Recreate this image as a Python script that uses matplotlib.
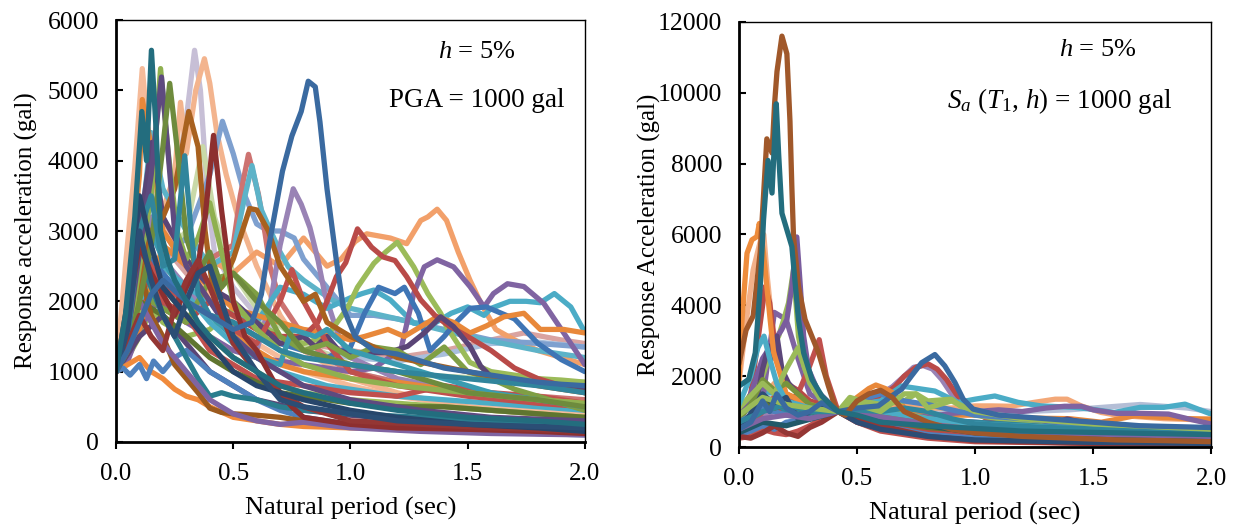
import matplotlib
matplotlib.use("Agg")
import matplotlib.pyplot as plt

plt.rcParams['font.family'] = ['Liberation Serif', 'DejaVu Serif']
plt.rcParams['mathtext.fontset'] = 'custom'
plt.rcParams['mathtext.rm'] = 'Liberation Serif'
plt.rcParams['mathtext.it'] = 'Liberation Serif:italic'

# ---- data: (period sec, response acc gal) ----
x_ticks = [0.0, 0.5, 1.0, 1.5, 2.0]
left_y_ticks = [0, 1000, 2000, 3000, 4000, 5000, 6000]
right_y_ticks = [0, 2000, 4000, 6000, 8000, 10000, 12000]

left_colors = [
    "#d9a3a1", "#a9bfdc", "#c7bfd6", "#f5bb9a", "#f3b48e", "#c9d9a8",
    "#f2a06a", "#7ea0cf", "#cd7371", "#5db3c8", "#9983b5", "#4bacc6",
    "#9bbb59", "#8064a2", "#3f75b5", "#e8883a", "#b94a48", "#5a4576",
    "#4bacc6", "#9bbb59", "#c0504d", "#e8883a", "#5a4576",
    "#c0504d", "#7f9f45", "#3a9bb0", "#5f7530", "#f08a3c", "#4f81bd",
    "#9c5a1e", "#2a7d8e", "#8064a2", "#a8611f", "#8fb050", "#5e4a7f",
    "#6e8b3d", "#31859c", "#8d2f2f", "#943634", "#27466b", "#2b4e75",
    "#3a6aa0", "#236d7e",
]

left_curves = [
    [(0, 1000), (0.05, 2500), (0.1, 3500), (0.15, 3000), (0.2, 2800), (0.3, 2400), (0.4, 2000), (0.5, 1800),
     (0.6, 1600), (0.8, 1400), (1.0, 1300), (1.2, 1200), (1.4, 1300), (1.6, 1450), (1.74, 1550), (1.9, 1450), (2.0, 1400)],
    [(0, 1000), (0.05, 1800), (0.1, 3000), (0.15, 2600), (0.2, 2400), (0.3, 2000), (0.4, 1800), (0.5, 1700),
     (0.6, 1500), (0.8, 1300), (1.0, 1200), (1.2, 1150), (1.4, 1250), (1.6, 1400), (1.8, 1420), (2.0, 1350)],
    [(0, 1000), (0.05, 1600), (0.1, 2800), (0.15, 3500), (0.2, 3200), (0.25, 3600), (0.3, 4600), (0.335, 5570),
     (0.36, 5000), (0.39, 3500), (0.42, 2700), (0.5, 2200), (0.6, 1800), (0.7, 1500), (0.8, 1300), (1.0, 1000),
     (1.2, 850), (1.5, 700), (1.8, 600), (2.0, 550)],
    [(0, 1000), (0.04, 2500), (0.08, 3900), (0.112, 5310), (0.14, 4300), (0.17, 3600), (0.2, 3200), (0.25, 2800),
     (0.3, 2500), (0.4, 2100), (0.5, 1700), (0.6, 1400), (0.8, 1000), (1.0, 800), (1.2, 650), (1.5, 500),
     (1.8, 450), (2.0, 400)],
    [(0, 1000), (0.05, 1500), (0.1, 2500), (0.15, 3000), (0.2, 3300), (0.25, 3800), (0.275, 4830), (0.3, 4100),
     (0.34, 5000), (0.377, 5450), (0.4, 5100), (0.43, 4400), (0.47, 3800), (0.52, 3200), (0.6, 2500), (0.7, 1800),
     (0.8, 1300), (0.9, 1100), (1.0, 900), (1.2, 700), (1.4, 550), (1.6, 450), (1.8, 400), (2.0, 350)],
    [(0, 1000), (0.05, 1400), (0.1, 2200), (0.2, 2600), (0.3, 3000), (0.37, 4200), (0.42, 3200), (0.5, 2400),
     (0.6, 1900), (0.8, 1400), (1.0, 1100), (1.3, 950), (1.6, 900), (2.0, 850)],
    [(0, 1000), (0.05, 1400), (0.1, 1900), (0.15, 2300), (0.2, 2500), (0.3, 2200), (0.4, 2600), (0.5, 2400),
     (0.6, 2700), (0.7, 2500), (0.8, 2900), (0.9, 2500), (0.96, 2600), (1.02, 2850), (1.07, 2960), (1.12, 2930),
     (1.17, 2900), (1.24, 2820), (1.3, 3150), (1.33, 3200), (1.37, 3310), (1.41, 3150), (1.46, 2700),
     (1.51, 2300), (1.56, 1950), (1.62, 1600), (1.7, 1450), (1.8, 1300), (1.9, 1200), (2.0, 1100)],
    [(0, 1000), (0.05, 1500), (0.1, 2500), (0.15, 3000), (0.2, 2600), (0.3, 2900), (0.4, 3800), (0.454, 4560),
     (0.5, 4100), (0.55, 3500), (0.6, 3100), (0.65, 3000), (0.7, 3000), (0.76, 2900), (0.8, 2600), (0.9, 2200),
     (1.0, 1800), (1.1, 1800), (1.2, 1750), (1.4, 1600), (1.6, 1450), (1.8, 1400), (2.0, 1350)],
    [(0, 1000), (0.05, 1800), (0.1, 3000), (0.15, 3400), (0.2, 3000), (0.3, 2500), (0.4, 2600), (0.5, 2800),
     (0.53, 3500), (0.565, 4090), (0.607, 3530), (0.636, 2960), (0.657, 2490), (0.7, 2000), (0.8, 1500),
     (0.9, 1200), (1.0, 1000), (1.2, 850), (1.5, 700), (1.8, 650), (2.0, 600)],
    [(0, 1000), (0.05, 1700), (0.1, 2800), (0.15, 4400), (0.2, 3600), (0.3, 3000), (0.4, 2500), (0.5, 2700),
     (0.55, 3500), (0.58, 3930), (0.62, 3300), (0.7, 2700), (0.735, 2490), (0.8, 2300), (0.92, 2020),
     (1.0, 1900), (1.2, 1750), (1.5, 1500), (1.8, 1300), (2.0, 1200)],
    [(0, 1000), (0.05, 1400), (0.1, 2400), (0.15, 3200), (0.2, 2600), (0.3, 2200), (0.4, 1800), (0.5, 1500),
     (0.6, 1300), (0.66, 2000), (0.7, 2800), (0.756, 3600), (0.79, 3380), (0.827, 3050), (0.862, 2580),
     (0.89, 2110), (0.95, 1500), (1.0, 1200), (1.2, 900), (1.5, 700), (1.8, 600), (2.0, 550)],
    [(0, 1000), (0.05, 1300), (0.1, 1700), (0.15, 2100), (0.2, 2500), (0.3, 2200), (0.4, 2000), (0.5, 1800),
     (0.6, 1700), (0.7, 2200), (0.8, 2100), (0.9, 1900), (1.0, 2050), (1.05, 2110), (1.1, 2160), (1.17, 2020),
     (1.27, 1690), (1.36, 1690), (1.43, 1830), (1.5, 1920), (1.57, 1800), (1.6, 1900), (1.68, 2000),
     (1.75, 2000), (1.81, 1980), (1.87, 2110), (1.94, 1920), (2.0, 1560)],
    [(0, 1000), (0.05, 1200), (0.1, 1500), (0.15, 1900), (0.2, 1700), (0.3, 1500), (0.4, 1600), (0.5, 1900),
     (0.6, 1700), (0.7, 1500), (0.8, 1400), (0.9, 1500), (0.99, 1920), (1.03, 2200), (1.1, 2540), (1.15, 2700),
     (1.2, 2840), (1.27, 2490), (1.33, 2110), (1.385, 1830), (1.41, 1640), (1.51, 1130), (1.6, 1000),
     (1.7, 950), (1.8, 900), (1.9, 880), (2.0, 850)],
    [(0, 1000), (0.05, 1150), (0.1, 1600), (0.15, 1900), (0.2, 2000), (0.3, 1700), (0.4, 1500), (0.5, 1300),
     (0.6, 1200), (0.7, 1150), (0.8, 1100), (0.9, 1050), (1.0, 1000), (1.1, 1050), (1.215, 1310), (1.27, 2110),
     (1.315, 2490), (1.37, 2590), (1.44, 2490), (1.51, 2210), (1.57, 1920), (1.61, 2110), (1.67, 2250),
     (1.74, 2210), (1.825, 1970), (1.91, 1550), (2.0, 1100)],
    [(0, 1000), (0.05, 1400), (0.1, 2000), (0.15, 2600), (0.2, 2400), (0.3, 2000), (0.4, 1800), (0.5, 1700),
     (0.6, 1500), (0.7, 1400), (0.8, 1300), (0.9, 1200), (1.0, 1350), (1.06, 1830), (1.12, 2200), (1.19, 2110),
     (1.23, 2200), (1.29, 1830), (1.34, 1300), (1.4, 1500), (1.45, 1700), (1.51, 1900), (1.58, 1920),
     (1.7, 1750), (1.8, 1400), (1.9, 1170), (2.0, 1000)],
    [(0, 1000), (0.05, 2000), (0.1, 3800), (0.112, 4870), (0.15, 4200), (0.2, 3000), (0.3, 2500), (0.4, 2200),
     (0.5, 1900), (0.6, 1800), (0.7, 1700), (0.8, 1600), (0.9, 1550), (1.0, 1450), (1.06, 1500), (1.16, 1600),
     (1.23, 1500), (1.3, 1640), (1.37, 1780), (1.44, 1700), (1.51, 1550), (1.58, 1650), (1.655, 1780),
     (1.74, 1830), (1.81, 1600), (1.91, 1600), (2.0, 1550)],
    [(0, 1000), (0.05, 1300), (0.1, 1800), (0.15, 2200), (0.2, 1900), (0.3, 1700), (0.4, 2000), (0.5, 1800),
     (0.6, 1600), (0.7, 1500), (0.8, 1500), (0.86, 1700), (0.9, 2000), (0.94, 2350), (0.98, 2550), (1.03, 3030),
     (1.09, 2770), (1.14, 2630), (1.19, 2580), (1.24, 2350), (1.3, 2020), (1.36, 1800), (1.42, 1650),
     (1.5, 1500), (1.6, 1300), (1.7, 1050), (1.8, 900), (1.9, 800), (2.0, 700)],
    [(0, 1000), (0.05, 1800), (0.1, 3000), (0.153, 4260), (0.2, 3200), (0.3, 2600), (0.4, 2200), (0.5, 2000),
     (0.6, 1700), (0.7, 1400), (0.8, 1500), (0.85, 1350), (0.9, 1500), (0.95, 1300), (1.0, 1250), (1.09, 1270),
     (1.16, 1270), (1.244, 1360), (1.315, 1550), (1.385, 1780), (1.44, 1640), (1.51, 1360), (1.555, 1080),
     (1.61, 890), (1.72, 850), (1.825, 800), (2.0, 750)],
    [(0, 1000), (0.1, 2000), (0.2, 2600), (0.3, 2100), (0.4, 1700), (0.5, 1400), (0.6, 1200), (0.7, 1000),
     (0.8, 900), (0.9, 800), (1.0, 750), (1.2, 650), (1.4, 600), (1.6, 550), (1.8, 500), (2.0, 450)],
    [(0, 1000), (0.1, 1800), (0.2, 2200), (0.3, 1800), (0.4, 1500), (0.5, 1200), (0.6, 1000), (0.7, 800),
     (0.8, 700), (1.0, 600), (1.2, 550), (1.4, 500), (1.6, 450), (1.8, 400), (2.0, 350)],
    [(0, 1000), (0.1, 2400), (0.2, 2000), (0.3, 1800), (0.4, 1300), (0.5, 1100), (0.6, 900), (0.7, 850),
     (0.8, 800), (1.0, 700), (1.2, 650), (1.4, 800), (1.6, 700), (1.8, 650), (2.0, 550)],
    [(0, 1000), (0.1, 1600), (0.2, 2800), (0.3, 2500), (0.4, 2000), (0.5, 1600), (0.6, 1300), (0.7, 1100),
     (0.8, 1000), (0.9, 950), (1.0, 900), (1.2, 850), (1.4, 750), (1.6, 650), (1.8, 600), (2.0, 550)],
    [(0, 1000), (0.1, 1500), (0.2, 1800), (0.3, 1400), (0.4, 1000), (0.5, 800), (0.6, 600), (0.8, 450),
     (1.0, 380), (1.3, 300), (1.6, 250), (2.0, 200)],
    [(0, 1000), (0.05, 1600), (0.1, 2800), (0.15, 2500), (0.2, 2200), (0.3, 2000), (0.4, 1800), (0.5, 1600),
     (0.6, 1400), (0.7, 2000), (0.75, 2450), (0.8, 2000), (0.9, 1400), (1.0, 1000), (1.2, 800), (1.5, 650),
     (1.8, 550), (2.0, 500)],
    [(0, 1000), (0.05, 1800), (0.1, 2300), (0.15, 2000), (0.2, 1900), (0.3, 1700), (0.4, 2300), (0.5, 2400),
     (0.6, 2100), (0.7, 1500), (0.8, 1300), (0.9, 1400), (1.0, 1200), (1.1, 1350), (1.2, 1300), (1.3, 1100),
     (1.4, 1350), (1.5, 1000), (1.6, 900), (1.7, 750), (1.8, 650), (1.9, 550), (2.0, 450)],
    [(0, 1000), (0.05, 1400), (0.1, 2200), (0.15, 3000), (0.2, 2600), (0.3, 2000), (0.4, 1800), (0.5, 1500),
     (0.6, 1200), (0.7, 1100), (0.75, 1600), (0.8, 1550), (0.85, 1500), (0.9, 1600), (1.0, 1300), (1.1, 1200),
     (1.2, 1100), (1.4, 900), (1.6, 700), (1.8, 600), (2.0, 500)],
    [(0, 1000), (0.05, 1500), (0.1, 2000), (0.2, 1800), (0.3, 1500), (0.4, 1200), (0.5, 1000), (0.6, 850),
     (0.7, 700), (0.8, 650), (0.9, 600), (1.0, 550), (1.2, 500), (1.4, 500), (1.6, 450), (1.8, 400), (2.0, 350)],
    [(0, 1000), (0.05, 1100), (0.1, 1200), (0.15, 1000), (0.2, 900), (0.25, 750), (0.3, 650), (0.35, 600),
     (0.4, 500), (0.5, 350), (0.6, 300), (0.7, 250), (0.8, 220), (1.0, 200), (1.3, 180), (1.6, 150), (2.0, 120)],
    [(0, 1000), (0.03, 1050), (0.06, 950), (0.1, 1100), (0.13, 900), (0.16, 1150), (0.2, 1000), (0.25, 1200),
     (0.3, 1300), (0.4, 1000), (0.5, 800), (0.6, 600), (0.7, 450), (0.8, 350), (1.0, 250), (1.2, 200),
     (1.5, 150), (2.0, 100)],
    [(0, 1000), (0.05, 1500), (0.1, 2500), (0.15, 1800), (0.2, 1500), (0.25, 1100), (0.3, 900), (0.35, 700),
     (0.4, 480), (0.45, 420), (0.5, 400), (0.6, 380), (0.7, 350), (0.8, 300), (1.0, 250), (1.3, 200),
     (1.6, 150), (2.0, 120)],
    [(0, 1000), (0.05, 1600), (0.1, 2600), (0.15, 2200), (0.2, 1800), (0.3, 1200), (0.35, 900), (0.4, 650),
     (0.45, 700), (0.5, 650), (0.6, 600), (0.7, 500), (0.8, 450), (1.0, 400), (1.3, 350), (1.6, 300), (2.0, 250)],
    [(0, 1000), (0.05, 1500), (0.1, 2000), (0.15, 1700), (0.2, 1400), (0.3, 1000), (0.4, 600), (0.5, 400),
     (0.6, 300), (0.7, 250), (0.8, 280), (1.0, 200), (1.3, 150), (1.6, 120), (2.0, 100)],
    [(0, 1000), (0.05, 1300), (0.1, 2200), (0.15, 3000), (0.2, 3200), (0.25, 3600), (0.31, 4700), (0.35, 4200),
     (0.38, 3000), (0.42, 2000), (0.5, 2600), (0.57, 3320), (0.6, 3300), (0.65, 3000), (0.7, 2500),
     (0.8, 2000), (0.85, 2100), (0.9, 1700), (1.0, 1500), (1.2, 1200), (1.5, 1000), (1.8, 800), (2.0, 700)],
    [(0, 1000), (0.05, 1400), (0.1, 2500), (0.15, 3500), (0.19, 5310), (0.22, 4200), (0.26, 3000), (0.3, 2600),
     (0.35, 2900), (0.4, 3400), (0.5, 2000), (0.6, 1600), (0.7, 1300), (0.8, 1100), (1.0, 900), (1.2, 800),
     (1.5, 700), (1.8, 600), (2.0, 550)],
    [(0, 1000), (0.05, 1500), (0.1, 2700), (0.15, 3800), (0.194, 5190), (0.22, 4200), (0.25, 3000), (0.3, 2500),
     (0.4, 2000), (0.5, 1500), (0.6, 1200), (0.8, 800), (1.0, 600), (1.3, 450), (1.6, 350), (2.0, 300)],
    [(0, 1000), (0.05, 1300), (0.1, 2000), (0.15, 2800), (0.2, 4200), (0.229, 5100), (0.26, 4200), (0.3, 2900),
     (0.35, 2400), (0.4, 2700), (0.45, 2200), (0.5, 2400), (0.6, 2000), (0.7, 1700), (0.8, 1300), (0.9, 1200),
     (1.0, 1100), (1.2, 1000), (1.5, 700), (1.8, 600), (2.0, 500)],
    [(0, 1000), (0.05, 1500), (0.1, 3000), (0.15, 3500), (0.2, 2500), (0.25, 2600), (0.293, 4070), (0.32, 3000),
     (0.35, 2100), (0.4, 1800), (0.5, 1700), (0.6, 1500), (0.7, 1300), (0.8, 1200), (0.9, 1150), (1.0, 1100),
     (1.2, 1000), (1.5, 900), (1.8, 800), (2.0, 700)],
    [(0, 1000), (0.05, 1800), (0.1, 2800), (0.15, 2400), (0.2, 2100), (0.25, 1800), (0.3, 2200), (0.35, 2500),
     (0.38, 3200), (0.416, 4360), (0.45, 3300), (0.5, 2000), (0.55, 1500), (0.6, 1300), (0.65, 1000),
     (0.7, 700), (0.75, 500), (0.8, 350), (0.9, 300), (1.0, 250), (1.2, 200), (1.5, 180), (1.8, 150), (2.0, 120)],
    [(0, 1000), (0.05, 1400), (0.1, 1800), (0.15, 1500), (0.2, 1300), (0.25, 1900), (0.3, 2300), (0.35, 2580),
     (0.4, 2200), (0.45, 1800), (0.5, 1400), (0.6, 1000), (0.7, 700), (0.8, 500), (1.0, 300), (1.3, 250),
     (1.6, 200), (2.0, 150)],
    [(0, 1000), (0.05, 2000), (0.1, 3500), (0.15, 2800), (0.2, 2200), (0.3, 1800), (0.4, 1400), (0.5, 1000),
     (0.6, 800), (0.7, 700), (0.8, 600), (1.0, 450), (1.2, 350), (1.5, 250), (1.8, 200), (2.0, 150)],
    [(0, 1000), (0.05, 1600), (0.1, 3000), (0.15, 2300), (0.2, 1800), (0.25, 1500), (0.3, 2000), (0.35, 2400),
     (0.4, 2500), (0.45, 2000), (0.5, 1500), (0.6, 1000), (0.7, 600), (0.8, 500), (1.0, 400), (1.2, 300),
     (1.5, 250), (2.0, 200)],
    [(0, 1000), (0.05, 1300), (0.1, 1700), (0.15, 2100), (0.2, 2300), (0.3, 2000), (0.4, 1800), (0.5, 1600),
     (0.58, 1700), (0.62, 2100), (0.65, 2750), (0.68, 3300), (0.71, 3850), (0.75, 4350), (0.79, 4700),
     (0.82, 5130), (0.85, 5050), (0.87, 4550), (0.9, 3600), (0.94, 2580), (0.97, 1900), (1.02, 1500),
     (1.1, 1300), (1.2, 1250), (1.3, 1150), (1.4, 1050), (1.5, 1000), (1.6, 950), (1.7, 900), (1.8, 850),
     (1.9, 820), (2.0, 800)],
    [(0, 1000), (0.04, 1800), (0.08, 3200), (0.11, 4700), (0.13, 4000), (0.151, 5570), (0.17, 4500),
     (0.19, 3000), (0.22, 2600), (0.25, 2300), (0.3, 2000), (0.35, 1700), (0.4, 1500), (0.5, 1200),
     (0.6, 1000), (0.7, 800), (0.8, 700), (1.0, 550), (1.2, 450), (1.5, 350), (1.8, 300), (2.0, 250)],
]

right_colors = [
    "#b4bed6", "#f3b18a", "#f3a878", "#9983b5", "#b94a48", "#4bacc6", "#e8883a",
    "#7f63a1", "#9bbb59", "#c0504d", "#b84a46", "#7a5c9e", "#5b4679", "#ee8c3c",
    "#77933c", "#31859c", "#4f81bd", "#9bbb59", "#4bacc6", "#c0504d", "#4f81bd",
    "#5f7530", "#943634", "#2c4d75", "#215968", "#8064a2", "#31859c", "#9bbb59",
    "#3a6aa0", "#a0582a", "#236d7e",
]

right_curves = [
    [(0, 900), (0.05, 1100), (0.1, 1500), (0.15, 1300), (0.2, 1200), (0.3, 1100), (0.42, 1000), (0.5, 1100),
     (0.6, 1200), (0.8, 1000), (1.0, 950), (1.2, 1000), (1.4, 1050), (1.6, 1150), (1.7, 1200), (1.8, 1150),
     (1.9, 1100), (2.0, 1000)],
    [(0, 1800), (0.03, 3500), (0.06, 5000), (0.09, 5800), (0.105, 6000), (0.12, 4800), (0.14, 3500),
     (0.17, 2400), (0.2, 1800), (0.3, 1300), (0.42, 1000), (0.5, 900), (0.6, 800), (0.8, 600), (1.0, 500),
     (1.5, 350), (2.0, 300)],
    [(0, 600), (0.05, 800), (0.1, 1400), (0.15, 1800), (0.2, 1500), (0.3, 1200), (0.42, 1000), (0.5, 1000),
     (0.6, 1100), (0.7, 1200), (0.8, 1100), (0.9, 1100), (1.0, 1160), (1.07, 1160), (1.15, 1150), (1.25, 1260),
     (1.34, 1350), (1.39, 1350), (1.45, 1160), (1.535, 975), (1.6, 900), (1.7, 850), (1.8, 800), (1.9, 780),
     (2.0, 750)],
    [(0, 400), (0.1, 900), (0.2, 1100), (0.3, 800), (0.42, 1000), (0.5, 1300), (0.6, 1500), (0.65, 1700),
     (0.7, 2000), (0.74, 2250), (0.78, 2300), (0.82, 2200), (0.86, 1900), (0.9, 1500), (0.95, 1150),
     (1.0, 950), (1.2, 700), (1.5, 500), (2.0, 350)],
    [(0, 500), (0.1, 1200), (0.2, 1000), (0.3, 900), (0.42, 1000), (0.5, 1200), (0.6, 1400), (0.66, 1700),
     (0.7, 2000), (0.75, 2250), (0.8, 2350), (0.84, 2200), (0.88, 1900), (0.92, 1500), (0.97, 1100),
     (1.05, 800), (1.2, 650), (1.5, 450), (2.0, 300)],
    [(0, 800), (0.05, 1200), (0.1, 1600), (0.15, 1500), (0.2, 1300), (0.3, 1100), (0.42, 1000), (0.5, 1200),
     (0.6, 1300), (0.689, 1720), (0.83, 1580), (0.929, 1260), (1.0, 1350), (1.084, 1440), (1.183, 1260),
     (1.28, 1160), (1.42, 1120), (1.49, 1070), (1.59, 975), (1.7, 1120), (1.8, 1120), (1.89, 1210),
     (2.0, 930)],
    [(0, 700), (0.05, 900), (0.1, 1200), (0.15, 1400), (0.2, 1500), (0.3, 1200), (0.42, 1000), (0.5, 1400),
     (0.55, 1650), (0.58, 1750), (0.62, 1650), (0.66, 1500), (0.7, 1100), (0.8, 900), (1.0, 900), (1.2, 820),
     (1.4, 800), (1.535, 700), (1.6, 780), (1.675, 880), (1.75, 850), (1.82, 830), (1.9, 800), (2.0, 790)],
    [(0, 500), (0.1, 1300), (0.15, 3800), (0.2, 3600), (0.25, 2500), (0.3, 1500), (0.42, 1000), (0.5, 1100),
     (0.6, 1000), (0.7, 900), (0.8, 850), (0.9, 950), (1.0, 1000), (1.1, 1050), (1.2, 1000), (1.3, 1100),
     (1.38, 1150), (1.45, 1150), (1.5, 1050), (1.6, 950), (1.7, 950), (1.82, 930), (1.9, 800), (2.0, 650)],
    [(0, 1000), (0.05, 1500), (0.1, 2000), (0.14, 2800), (0.168, 3130), (0.19, 3600), (0.21, 4070),
     (0.231, 5000), (0.252, 3130), (0.275, 2300), (0.295, 1910), (0.35, 1400), (0.42, 1000), (0.47, 1400),
     (0.52, 1300), (0.6, 1200), (0.7, 1300), (0.75, 1500), (0.8, 1300), (0.9, 1350), (0.95, 1100),
     (1.0, 900), (1.2, 700), (1.4, 600), (1.6, 500), (1.8, 450), (2.0, 400)],
    [(0, 300), (0.05, 600), (0.1, 1000), (0.15, 1400), (0.2, 1200), (0.25, 1500), (0.3, 2300), (0.34, 3030),
     (0.37, 2000), (0.42, 1000), (0.5, 700), (0.6, 500), (0.8, 300), (1.0, 200), (1.5, 150), (2.0, 120)],
    [(0, 600), (0.05, 1500), (0.08, 3000), (0.111, 4530), (0.13, 4070), (0.147, 3130), (0.17, 2200),
     (0.2, 1800), (0.25, 1600), (0.3, 1300), (0.35, 1200), (0.42, 1000), (0.5, 800), (0.6, 650), (0.8, 450),
     (1.0, 350), (1.3, 300), (1.6, 350), (2.0, 300)],
    [(0, 800), (0.05, 1500), (0.1, 2500), (0.15, 3000), (0.18, 3300), (0.203, 3600), (0.224, 4530),
     (0.245, 5930), (0.26, 4530), (0.274, 3130), (0.295, 2190), (0.337, 1540), (0.42, 1000), (0.5, 1000),
     (0.6, 900), (0.8, 800), (1.0, 700), (1.2, 600), (1.5, 500), (2.0, 400)],
    [(0, 400), (0.05, 800), (0.08, 1500), (0.1, 2200), (0.126, 2850), (0.14, 2500), (0.161, 3130),
     (0.182, 2190), (0.21, 1800), (0.25, 1500), (0.3, 1100), (0.35, 1000), (0.42, 1000), (0.5, 950),
     (0.6, 800), (0.7, 700), (0.8, 600), (0.9, 550), (1.0, 500), (1.2, 450), (1.3, 600), (1.39, 790),
     (1.45, 700), (1.535, 510), (1.7, 420), (2.0, 350)],
    [(0, 1900), (0.013, 3600), (0.034, 5470), (0.055, 5850), (0.076, 5940), (0.086, 6310), (0.104, 5470),
     (0.118, 4530), (0.132, 3600), (0.147, 2660), (0.2, 1500), (0.3, 1200), (0.42, 1000), (0.5, 900),
     (0.6, 800), (0.8, 600), (1.0, 500), (1.5, 400), (2.0, 300)],
    [(0, 800), (0.05, 1200), (0.1, 1900), (0.15, 1600), (0.2, 1800), (0.25, 1500), (0.3, 1200), (0.42, 1000),
     (0.5, 1100), (0.6, 900), (0.8, 700), (1.0, 500), (1.5, 400), (2.0, 300)],
    [(0, 600), (0.1, 1000), (0.15, 1300), (0.2, 1000), (0.3, 900), (0.42, 1000), (0.5, 1200), (0.6, 1100),
     (0.7, 900), (0.8, 800), (1.0, 700), (1.5, 500), (2.0, 400)],
    [(0, 700), (0.1, 1100), (0.2, 900), (0.3, 800), (0.42, 1000), (0.5, 1300), (0.6, 1500), (0.7, 1300),
     (0.8, 1200), (1.0, 900), (1.2, 800), (1.5, 600), (2.0, 500)],
    [(0, 1100), (0.1, 1800), (0.15, 1500), (0.2, 2200), (0.25, 2800), (0.3, 1800), (0.35, 1300), (0.42, 1000),
     (0.48, 1350), (0.55, 1250), (0.6, 1100), (0.8, 800), (1.0, 600), (1.5, 400), (2.0, 300)],
    [(0, 1200), (0.05, 2000), (0.08, 2800), (0.106, 3130), (0.13, 2500), (0.16, 1800), (0.2, 1300),
     (0.3, 1100), (0.42, 1000), (0.5, 1100), (0.6, 1000), (0.7, 900), (0.8, 800), (1.0, 650), (1.5, 500),
     (2.0, 450)],
    [(0, 250), (0.05, 300), (0.1, 500), (0.15, 400), (0.2, 350), (0.25, 450), (0.3, 600), (0.35, 800),
     (0.42, 1000), (0.5, 700), (0.6, 450), (0.8, 250), (1.0, 150), (1.5, 100), (2.0, 80)],
    [(0, 350), (0.05, 450), (0.1, 600), (0.15, 500), (0.2, 700), (0.3, 800), (0.42, 1000), (0.5, 800),
     (0.6, 600), (0.8, 350), (1.0, 250), (1.5, 150), (2.0, 120)],
    [(0, 600), (0.05, 900), (0.1, 1300), (0.15, 1100), (0.2, 1200), (0.3, 1000), (0.42, 1000), (0.5, 900),
     (0.6, 750), (0.8, 550), (1.0, 450), (1.5, 300), (2.0, 250)],
    [(0, 300), (0.05, 250), (0.1, 400), (0.15, 600), (0.2, 400), (0.25, 300), (0.3, 550), (0.35, 700),
     (0.42, 1000), (0.5, 800), (0.6, 600), (0.8, 300), (1.0, 180), (1.5, 100), (2.0, 80)],
    [(0, 400), (0.1, 1500), (0.15, 1200), (0.2, 1400), (0.25, 800), (0.3, 1000), (0.38, 1200), (0.42, 1000),
     (0.5, 700), (0.6, 500), (0.8, 300), (1.0, 200), (1.5, 130), (2.0, 100)],
    [(0, 400), (0.1, 700), (0.2, 600), (0.42, 1000), (0.5, 900), (0.7, 700), (1.0, 400), (1.5, 250),
     (2.0, 200)],
    [(0, 500), (0.1, 800), (0.2, 900), (0.3, 800), (0.42, 1000), (0.5, 1000), (0.6, 850), (0.8, 650),
     (1.0, 500), (1.3, 400), (1.6, 350), (2.0, 300)],
    [(0, 700), (0.1, 1000), (0.2, 1200), (0.3, 1000), (0.42, 1000), (0.5, 1050), (0.6, 1000), (0.7, 1100),
     (0.8, 1000), (0.9, 800), (1.0, 650), (1.3, 550), (1.6, 500), (2.0, 450)],
    [(0, 900), (0.1, 1400), (0.2, 1200), (0.3, 1100), (0.42, 1000), (0.5, 1200), (0.6, 1000), (0.7, 1500),
     (0.75, 1500), (0.8, 1100), (0.9, 1300), (1.0, 1000), (1.2, 800), (1.5, 650), (2.0, 500)],
    [(0, 500), (0.05, 700), (0.1, 1300), (0.13, 1000), (0.16, 1500), (0.2, 1100), (0.25, 900), (0.3, 1000),
     (0.35, 1250), (0.42, 1000), (0.5, 1100), (0.59, 1160), (0.647, 1440), (0.689, 1630), (0.73, 2000),
     (0.774, 2380), (0.83, 2610), (0.872, 2290), (0.915, 1820), (0.95, 1350), (0.992, 1070), (1.1, 900),
     (1.3, 800), (1.5, 700), (1.7, 600), (2.0, 550)],
    [(0, 2350), (0.03, 3300), (0.06, 3700), (0.09, 5500), (0.118, 8700), (0.14, 8300), (0.151, 9700),
     (0.161, 10600), (0.182, 11600), (0.203, 11100), (0.216, 9200), (0.224, 7340), (0.231, 5940),
     (0.252, 4530), (0.28, 3600), (0.337, 2660), (0.379, 1720), (0.406, 1160), (0.42, 1000), (0.45, 900),
     (0.5, 1300), (0.55, 1500), (0.6, 1600), (0.65, 1400), (0.7, 1000), (0.8, 700), (0.9, 500), (1.0, 400),
     (1.2, 300), (1.4, 250), (1.6, 200), (1.8, 180), (2.0, 150)],
    [(0, 1720), (0.041, 1910), (0.069, 2660), (0.09, 4530), (0.104, 6410), (0.123, 8090), (0.14, 7170),
     (0.158, 9690), (0.168, 8280), (0.182, 6600), (0.203, 6130), (0.224, 5660), (0.252, 3600), (0.274, 2660),
     (0.309, 1910), (0.351, 1440), (0.393, 1160), (0.42, 1000), (0.5, 900), (0.6, 700), (0.8, 600),
     (1.2, 450), (2.0, 350)],
]

# ---- figure ----
fig = plt.figure(figsize=(12.37, 5.28), dpi=100)
ax1 = fig.add_axes([0.0938, 0.163, 0.379, 0.799])
ax2 = fig.add_axes([0.5974, 0.1534, 0.3816, 0.805])


def draw_panel(ax, curves, colors, yticks, ylabel):
    for pts, c in zip(curves, colors):
        ax.plot([p[0] for p in pts], [p[1] for p in pts], color=c, lw=3.8,
                solid_joinstyle='round', solid_capstyle='round')
    ax.set_xlim(0, 2)
    ax.set_ylim(yticks[0], yticks[-1])
    ax.set_xticks(x_ticks)
    ax.set_xticklabels([f"{t:.1f}" for t in x_ticks])
    ax.set_yticks(yticks)
    ax.set_yticklabels([str(v) for v in yticks])
    ax.tick_params(axis='y', direction='in', length=5, width=1.5, labelsize=18.5, pad=12)
    ax.tick_params(axis='x', direction='out', length=5, width=1.5, labelsize=18, pad=10)
    for side in ['left', 'bottom']:
        ax.spines[side].set_linewidth(2.0)
    for side in ['top', 'right']:
        ax.spines[side].set_linewidth(1.0)
    ax.set_xlabel("Natural period (sec)", fontsize=19, labelpad=9)
    ax.set_ylabel(ylabel, fontsize=18)
    ax.yaxis.set_label_coords(-0.166, 0.5)


draw_panel(ax1, left_curves, left_colors, left_y_ticks, "Response acceleration (gal)")
draw_panel(ax2, right_curves, right_colors, right_y_ticks, "Response Acceleration (gal)")

ax1.text(0.77, 0.925, r"$h$ = 5%", transform=ax1.transAxes, fontsize=19, ha='center', va='center')
ax1.text(0.77, 0.81, "PGA = 1000 gal", transform=ax1.transAxes, fontsize=19.5, ha='center', va='center')
ax2.text(0.76, 0.935, r"$h$ = 5%", transform=ax2.transAxes, fontsize=19, ha='center', va='center')
ax2.text(0.68, 0.815, r"$S_a$ ($T_1$, $h$) = 1000 gal", transform=ax2.transAxes, fontsize=19.5,
         ha='center', va='center')

fig.savefig("out.png", dpi=100)
